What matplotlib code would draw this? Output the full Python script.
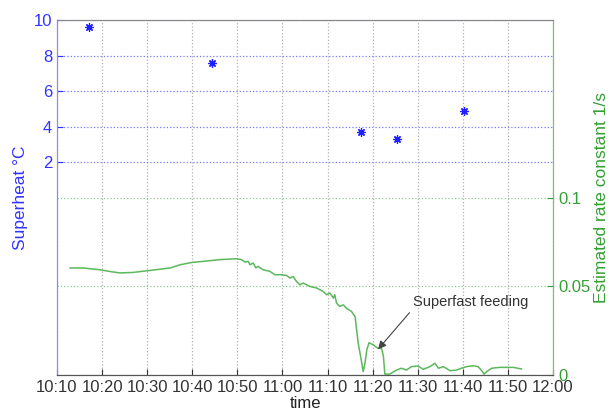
import matplotlib
matplotlib.use("Agg")
import matplotlib.pyplot as plt

plt.rcParams['font.family'] = ['Liberation Sans', 'DejaVu Sans']

# x axis: minutes after 10:10
tick_labels = ['10:10', '10:20', '10:30', '10:40', '10:50', '11:00',
               '11:10', '11:20', '11:30', '11:40', '11:50', '12:00']

# superheat samples (minutes after 10:10, degC)
superheat_min = [7.1, 34.4, 67.4, 75.4, 90.2]
superheat_val = [9.6, 7.6, 3.7, 3.3, 4.9]

# estimated rate constant (minutes after 10:10, 1/s)
rate_min = [2.9, 5.8, 9.5, 12.0, 14.0, 16.9, 20.6, 25.1, 27.3, 29.9, 32.4,
            36.1, 39.8, 40.9, 41.7, 42.4, 42.8, 43.5, 44.1, 44.6, 45.7, 47.2,
            48.3, 49.8, 50.9, 51.7, 52.4, 53.1, 53.9, 54.6, 56.1, 57.6, 59.0,
            59.8, 60.5, 61.3, 61.6, 62.0, 62.7, 63.5, 64.2, 65.3, 66.1, 66.8,
            67.6, 67.9, 68.3, 68.7, 69.2, 70.1, 71.2, 72.0, 72.4, 72.7, 73.8,
            75.3, 76.4, 77.5, 78.6, 80.1, 81.2, 82.7, 83.8, 84.6, 85.7, 87.2,
            88.6, 89.7, 90.8, 92.3, 93.4, 94.2, 94.7, 95.3, 96.4, 98.2, 101.2,
            103.0]
rate_val = [0.0603, 0.0603, 0.0593, 0.0582, 0.0575, 0.0578, 0.0589, 0.0603,
            0.0621, 0.0634, 0.0640, 0.0650, 0.0655, 0.0650, 0.0636, 0.0640,
            0.0621, 0.0631, 0.0603, 0.0612, 0.0593, 0.0584, 0.0565, 0.0565,
            0.0561, 0.0546, 0.0555, 0.0527, 0.0508, 0.0518, 0.0499, 0.0490,
            0.0471, 0.0452, 0.0462, 0.0433, 0.0452, 0.0405, 0.0386, 0.0395,
            0.0376, 0.0358, 0.0330, 0.0179, 0.0066, 0.0019, 0.0066, 0.0141,
            0.0182, 0.0170, 0.0150, 0.0150, 0.0103, 0.0005, 0.0005, 0.0028,
            0.0038, 0.0028, 0.0047, 0.0051, 0.0032, 0.0047, 0.0066, 0.0038,
            0.0047, 0.0024, 0.0028, 0.0038, 0.0047, 0.0052, 0.0047, 0.0024,
            0.0005, 0.0019, 0.0038, 0.0043, 0.0043, 0.0034]

superheat_ticks = [2, 4, 6, 8, 10]
rate_ticks = [0, 0.05, 0.1]
rate_tick_labels = ['0', '0.05', '0.1']

blue = '#3333ff'
green_line = '#5cb85c'
green_text = '#33a033'

fig = plt.figure(figsize=(6.1, 4.11), dpi=100)
ax = fig.add_axes([0.0934, 0.0876, 0.8132, 0.8637])
ax2 = ax.twinx()

# left axis: superheat
ax.plot(superheat_min, superheat_val, linestyle='none', marker=(8, 2, 0),
        markersize=6, markeredgewidth=0.9, color='#2020ff')
ax.set_ylim(-10, 10)
ax.set_yticks(superheat_ticks)
ax.set_xlim(0, 110)
ax.set_xticks(range(0, 111, 10))
ax.set_xticklabels(tick_labels)
ax.tick_params(axis='y', colors=blue, direction='in', length=4, labelsize=12)
ax.tick_params(axis='x', colors='#333333', direction='in', length=4,
               labelsize=12, top=False)
ax.set_ylabel('Superheat °C', color=blue, fontsize=12.5, labelpad=4)
ax.set_xlabel('time', fontsize=12, color='#222222', labelpad=1)
ax.xaxis.grid(True, linestyle=':', color='#b0b0b0', linewidth=0.9)
ax.yaxis.grid(True, linestyle=':', color='#7777ff', linewidth=0.9)

# right axis: rate constant
ax2.plot(rate_min, rate_val, color=green_line, linewidth=1.1)
ax2.set_ylim(0, 0.2)
ax2.set_yticks(rate_ticks)
ax2.set_yticklabels(rate_tick_labels)
ax2.tick_params(axis='y', colors=green_text, direction='in', length=4,
                labelsize=12)
ax2.set_ylabel('Estimated rate constant 1/s', color=green_text,
               fontsize=12.5, labelpad=3)
ax2.yaxis.grid(True, linestyle=':', color='#88cc88', linewidth=0.9)

ax2.annotate('Superfast feeding', xy=(71.2, 0.0145), xytext=(78.9, 0.0412),
             fontsize=10.5, color='#333333', ha='left', va='center',
             arrowprops=dict(arrowstyle='-|>', color='#444444', lw=0.8,
                             relpos=(0, 0), shrinkA=1, shrinkB=0,
                             mutation_scale=12))

for a in (ax, ax2):
    a.spines['top'].set_color('#888888')
    a.spines['bottom'].set_color('#555555')
    a.spines['left'].set_color('#8888ff')
    a.spines['right'].set_color('#77c077')

fig.savefig('out.png', dpi=100)
